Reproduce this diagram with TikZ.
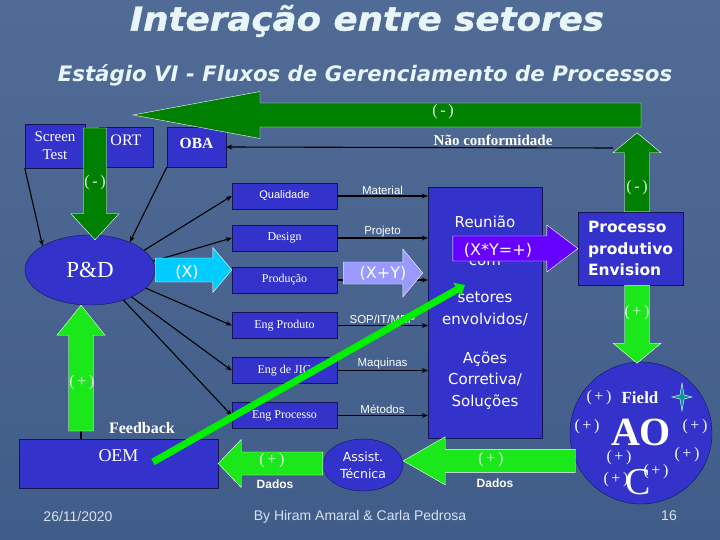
\documentclass[tikz,border=0pt]{standalone}
\usepackage{fontspec}
\setmainfont{Liberation Serif}
\setsansfont{Liberation Sans}
\newfontfamily\vfont{DejaVu Sans}
\newfontfamily\titlefont{DejaVu Sans}[FakeStretch=1.08,FakeBold=1.2]
\usetikzlibrary{calc,positioning,shapes.geometric,arrows.meta}

\definecolor{bgtop}{RGB}{80,108,150}
\definecolor{bgmid}{RGB}{92,122,165}
\definecolor{bgbot}{RGB}{64,92,136}
\definecolor{boxblue}{RGB}{51,51,204}
\definecolor{boxline}{RGB}{20,20,80}
\definecolor{dkgreen}{RGB}{0,128,0}
\definecolor{ltgreen}{RGB}{26,232,26}
\definecolor{limeline}{RGB}{0,240,0}
\definecolor{cyanarrow}{RGB}{0,204,255}
\definecolor{lavender}{RGB}{153,153,255}
\definecolor{purplearrow}{RGB}{102,0,255}
\definecolor{titlecol}{RGB}{232,246,250}
\definecolor{footcol}{RGB}{215,225,240}
\definecolor{signcol}{RGB}{225,248,225}
\definecolor{startl}{RGB}{0,150,150}

% block arrow: style, from, to, shaft half width, head half width, head length
\newcommand{\fatarrow}[6]{%
  \path[#1] let \p1=#2, \p2=#3, \n1={atan2(\y2-\y1,\x2-\x1)}, \n2={veclen(\x2-\x1,\y2-\y1)} in
    [shift={(\p1)},rotate=\n1] (0,-#4) -- ({\n2-#6},-#4) -- ({\n2-#6},-#5) -- (\n2,0)
    -- ({\n2-#6},#5) -- ({\n2-#6},#4) -- (0,#4) -- cycle;}

\begin{document}
\begin{tikzpicture}[x=1pt,y=-1pt,
  box/.style={rectangle,draw=boxline,fill=boxblue,text=white,inner sep=0pt},
  midbox/.style={box,minimum width=105pt,minimum height=26pt,font=\fontsize{12}{14}\selectfont},
  blob/.style={ellipse,draw=boxline,fill=boxblue,text=white,inner sep=0pt},
  conn/.style={line width=1.1pt,-{Stealth[length=6pt,width=5pt]}},
  flow/.style={above,inner sep=1pt,text=white,font=\sffamily\fontsize{11.5}{13}\selectfont},
  sign/.style={text=signcol,font=\fontsize{16}{18}\selectfont},
  xlbl/.style={text=white,font=\vfont\fontsize{16}{18}\selectfont},
  dados/.style={text=white,font=\sffamily\bfseries\fontsize{12}{14}\selectfont},
  aotxt/.style={text=white,font=\fontsize{16}{18}\selectfont}]
  \shade[top color=bgtop,middle color=bgmid,bottom color=bgbot] (0,0) rectangle (720,540);
  \useasboundingbox (0,0) rectangle (720,540);

  \node[text=titlecol,font=\titlefont\bfseries\itshape\fontsize{33}{36}\selectfont] (title) at (367,21) {Interação entre setores};
  \node[text=titlecol,font=\vfont\bfseries\itshape\fontsize{21.3}{23}\selectfont] (subtitle) at (365,75) {Estágio VI - Fluxos de Gerenciamento de Processos};

  \node[box,minimum width=60pt,minimum height=44pt,align=center,font=\fontsize{15}{18}\selectfont] (screen) at (55,146) {Screen\\Test};
  \node[box,minimum width=54pt,minimum height=40pt,text depth=14pt,font=\fontsize{16}{18}\selectfont] (ort) at (126,147) {ORT};
  \node[box,minimum width=59pt,minimum height=40pt,text depth=8pt,font=\bfseries\fontsize{15.5}{18}\selectfont] (oba) at (196.5,147) {OBA};
  \node[blob,minimum width=130pt,minimum height=70pt,font=\fontsize{23}{26}\selectfont] (pd) at (90,270) {P\&D};

  \node[midbox,font=\sffamily\fontsize{11}{13}\selectfont] (qual) at (284.5,196) {Qualidade};
  \node[midbox] (design) at (284.5,238) {Design};
  \node[midbox] (prod) at (284.5,280) {Produção};
  \node[midbox] (engprod) at (284.5,325.5) {Eng Produto};
  \node[midbox] (engjig) at (284.5,370.5) {Eng de JIG};
  \node[midbox] (engproc) at (284.5,415.5) {Eng Processo};

  \node[box,minimum width=114pt,minimum height=251pt,align=center,font=\vfont\fontsize{15}{21.5}\selectfont] (reun) at (485,312.5)
    {Reunião\\[16.5pt]com\\[15.5pt]setores\\envolvidos/\\[17.5pt]Ações\\Corretiva/\\Soluções};
  \node[box,minimum width=105pt,minimum height=73pt,align=left,font=\vfont\bfseries\fontsize{15.5}{21.5}\selectfont] (proc) at (630.5,248.5)
    {Processo\\produtivo\\Envision};
  \node[blob,circle,minimum size=142pt] (ao) at (641,433) {};
  \node[box,minimum width=199pt,minimum height=49pt,text depth=16pt,font=\fontsize{18}{20}\selectfont] (oem) at (118.5,463.5) {OEM};
  \node[blob,minimum width=80pt,minimum height=52pt,align=center,font=\vfont\fontsize{12.5}{17}\selectfont] (assist) at (363,465) {Assist.\\Técnica};
  \node[text=white,font=\bfseries\fontsize{16}{18}\selectfont] (feedback) at (142,428) {Feedback};

  \coordinate (ncR) at (613,148);
  \coordinate (topR) at (641,115);
  \coordinate (topL) at (133,115);
  \coordinate (dnS) at (95,128);
  \coordinate (upS) at (81,431);

  \path[conn]
    (screen.south west) edge (pd.153)
    (oba.south west) edge (pd.35)
    (pd.20) edge (qual.west)
    (pd.8) edge (design.west)
    (pd.-18) edge (engprod.west)
    (pd.-33) edge (engjig.west)
    (pd.-42) edge (engproc.west)
    (qual.east) edge node[flow] {Material} (qual.east -| reun.west)
    (design.east) edge node[flow] {Projeto} (design.east -| reun.west)
    (prod.east) edge (prod.east -| reun.west)
    (engprod.east) edge node[flow] {SOP/IT/MEP} (engprod.east -| reun.west)
    (engjig.east) edge node[flow] {Maquinas} (engjig.east -| reun.west)
    (engproc.east) edge node[flow] {Métodos} (engproc.east -| reun.west)
    (ncR) edge node[pos=0.31,above,inner sep=1pt,text=white,font=\bfseries\fontsize{15}{17}\selectfont] {Não conformidade} (oba.east)
    (reun.east |- proc.west) edge (proc.west)
    (assist.west) edge (oem.east)
    (ao.203) edge (ao.203 -| assist.east);
  \draw[line width=1.1pt] (upS) -- (upS |- oem.north);

  \fatarrow{fill=dkgreen,draw=white}{(topR)}{(topL)}{12}{23.5}{127}
  \fatarrow{fill=dkgreen,draw=white}{($(proc.north)+(6.5,0)$)}{($(proc.north)+(6.5,-79)$)}{12.5}{24}{20}
  \fatarrow{fill=dkgreen,draw=white}{(dnS)}{($(dnS |- pd.north)+(0,5)$)}{11.5}{24}{26}
  \fatarrow{fill=cyanarrow,draw=white}{(pd.east)}{(pd.east -| prod.west)}{12}{22.5}{19}
  \fatarrow{fill=lavender,draw=white}{($(prod.east)+(6,-7)$)}{($(prod.east -| reun.west)+(-5,-7)$)}{11}{24}{20}
  \fatarrow{fill=purplearrow,draw=white}{($(proc.west)+(-125,0)$)}{(proc.west)}{12.5}{23.5}{31}
  \fatarrow{fill=ltgreen,draw=white}{(upS)}{(upS |- pd.south)}{12.5}{24}{30}
  \fatarrow{fill=ltgreen,draw=white}{($(proc.south)+(6.5,0)$)}{($(proc.south)+(6.5,78)$)}{12.5}{24}{20}
  \fatarrow{fill=ltgreen,draw=white}{(ao.203)}{(ao.203 -| assist.east)}{11.5}{24}{42}
  \fatarrow{fill=ltgreen,draw=white}{(assist.west |- oem.east)}{(oem.east)}{11.5}{24}{23}

  \node[sign] (s1) at (443,112) {(\,-\,)};
  \node[sign] (s2) at (637,188) {(\,-\,)};
  \node[sign] (s3) at (95,183) {(\,-\,)};
  \node[sign] (s4) at (82,383) {(\,+\,)};
  \node[sign] (s5) at (637,313) {(\,+\,)};
  \node[sign] (s6) at (491,460) {(\,+\,)};
  \node[sign] (s7) at (272,461) {(\,+\,)};
  \node[dados] (d1) at (495,483) {Dados};
  \node[dados] (d2) at (275,484) {Dados};
  \node[xlbl] (x1) at (187,272) {(X)};
  \node[xlbl] (x2) at (383,273) {(X+Y)};
  \node[xlbl] (x3) at (498,250) {(X*Y=+)};

  \node[aotxt] (a1) at (599,398) {(\,+\,)};
  \node[aotxt,font=\bfseries\fontsize{17}{19}\selectfont] (field) at (640,398) {Field};
  \filldraw[fill=startl,draw=white] (682,383) -- (684,395) -- (692,397) -- (684,399) -- (682,411) -- (680,399) -- (672,397) -- (680,395) -- cycle;
  \node[aotxt] (a2) at (587,427) {(\,+\,)};
  \node[aotxt,font=\bfseries\fontsize{40}{42}\selectfont] (aoname) at (641,432) {AO};
  \node[aotxt] (a3) at (695,427) {(\,+\,)};
  \node[aotxt] (a4) at (619,458) {(\,+\,)};
  \node[aotxt] (a5) at (687,455) {(\,+\,)};
  \node[aotxt] (a6) at (616,480) {(\,+\,)};
  \node[aotxt,font=\fontsize{38}{40}\selectfont] (cname) at (638,482) {C};
  \node[aotxt] (a7) at (656,472) {(\,+\,)};

  \coordinate (fbS) at (153,462);
  \coordinate (fbE) at (465,285);
  \draw[limeline,line width=7pt,-{Triangle[length=9pt,width=15pt]}] (fbS) -- (fbE);

  \node[text=footcol,font=\sffamily\fontsize{14}{16}\selectfont] (date) at (78,516) {26/11/2020};
  \node[text=footcol,font=\sffamily\fontsize{14}{16}\selectfont] (authors) at (360,517) {By Hiram Amaral \& Carla Pedrosa};
  \node[text=footcol,font=\sffamily\fontsize{14}{16}\selectfont] (page) at (669,516) {16};
\end{tikzpicture}
\end{document}
